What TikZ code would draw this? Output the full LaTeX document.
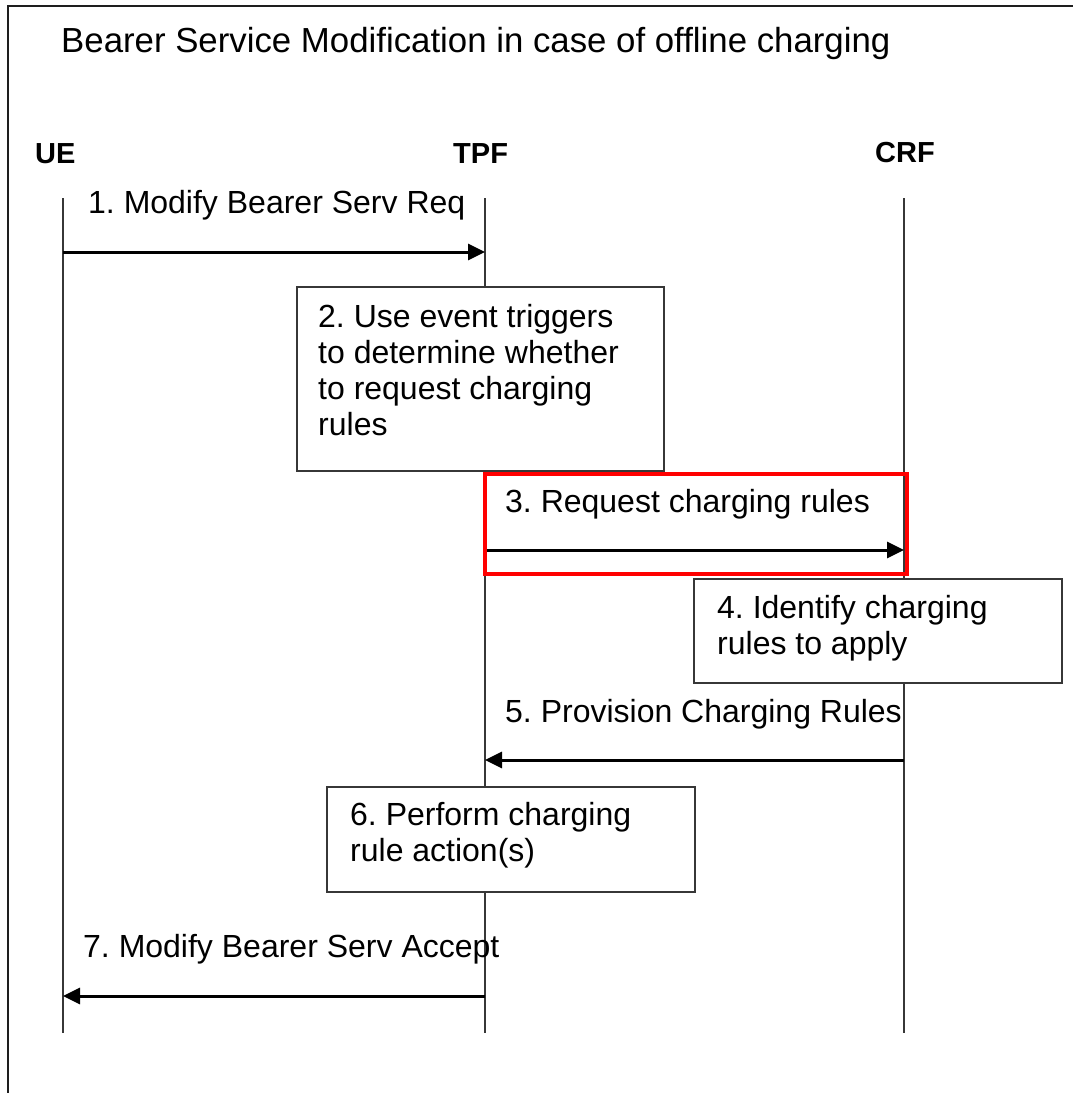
\documentclass[tikz,border=0pt]{standalone}
\usepackage{fontspec}
\setmainfont{Liberation Sans}
\frenchspacing
\usetikzlibrary{arrows.meta}
\definecolor{linegray}{RGB}{55,55,55}
\definecolor{framegray}{RGB}{30,30,30}
\begin{document}
\frenchspacing
\begin{tikzpicture}[x=1pt,y=-1pt,
  lifeline/.style={draw=linegray, line width=1.4pt},
  msg/.style={draw=black, line width=3pt, -{Triangle[length=17pt,width=16pt]}},
  actbox/.style={draw=linegray, line width=1.6pt, fill=white, rectangle, inner sep=0pt, anchor=north west},
  txt/.style={font=\fontsize{32}{36}\selectfont, inner sep=0pt, align=left, anchor=base west},
  head/.style={font=\fontsize{29}{34}\selectfont\bfseries, inner sep=0pt, anchor=base west},
  frameline/.style={draw=framegray, line width=2pt},
  hilite/.style={draw=red, line width=4pt, rectangle, inner sep=0pt, anchor=north west}
]
\useasboundingbox (0,0) rectangle (1073,1093);
\draw[frameline] (8,1093) -- (8,6) -- (1073,6);

\node[txt, font=\fontsize{34.8}{40}\selectfont] (title) at (61,52) {Bearer Service Modification in case of offline charging};

% heads
\node[head] (UE) at (35,163) {UE};
\node[head] (TPF) at (453,163) {TPF};
\node[head] (CRF) at (875,162) {CRF};

% lifelines
\coordinate (ueT) at (63,198);  \coordinate (ueB) at (63,1033);
\coordinate (tpT) at (485,198); \coordinate (tpB) at (485,1033);
\coordinate (crT) at (904,198); \coordinate (crB) at (904,1033);
\draw[lifeline] (ueT) -- (ueB);
\draw[lifeline] (tpT) -- (tpB);
\draw[lifeline] (crT) -- (crB);

% action boxes
\node[actbox, minimum width=367, minimum height=184] (b2) at (296,286) {};
\node[actbox, minimum width=368, minimum height=104] (b4) at (693,578) {};
\node[actbox, minimum width=368, minimum height=105] (b6) at (326,786) {};

% message end points
\coordinate (m1s) at (63,252);  \coordinate (m1e) at (485,252);
\coordinate (m3s) at (485,550); \coordinate (m3e) at (904,550);
\coordinate (m5s) at (904,760); \coordinate (m5e) at (485,760);
\coordinate (m7s) at (485,996); \coordinate (m7e) at (63,996);
\draw[msg] (m1s) -- (m1e);
\draw[msg] (m3s) -- (m3e);
\draw[msg] (m5s) -- (m5e);
\draw[msg] (m7s) -- (m7e);

% texts (multi-line nodes: base = last line baseline)
\node[txt] (t1) at (88,213) {1. Modify Bearer Serv Req};
\node[txt] (t2) at (318,435) {2. Use event triggers\\to determine whether\\to request charging\\rules};
\node[txt] (t3) at (505,512) {3. Request charging rules};
\node[txt] (t4) at (717,654) {4. Identify charging\\rules to apply};
\node[txt] (t5) at (505,722) {5. Provision Charging Rules};
\node[txt] (t6) at (350,861) {6. Perform charging\\rule action(s)};
\node[txt] (t7) at (83,957) {7. Modify Bearer Serv Accept};

% highlight
\node[hilite, minimum width=422, minimum height=100] (hl) at (483,472) {};
\end{tikzpicture}
\end{document}
